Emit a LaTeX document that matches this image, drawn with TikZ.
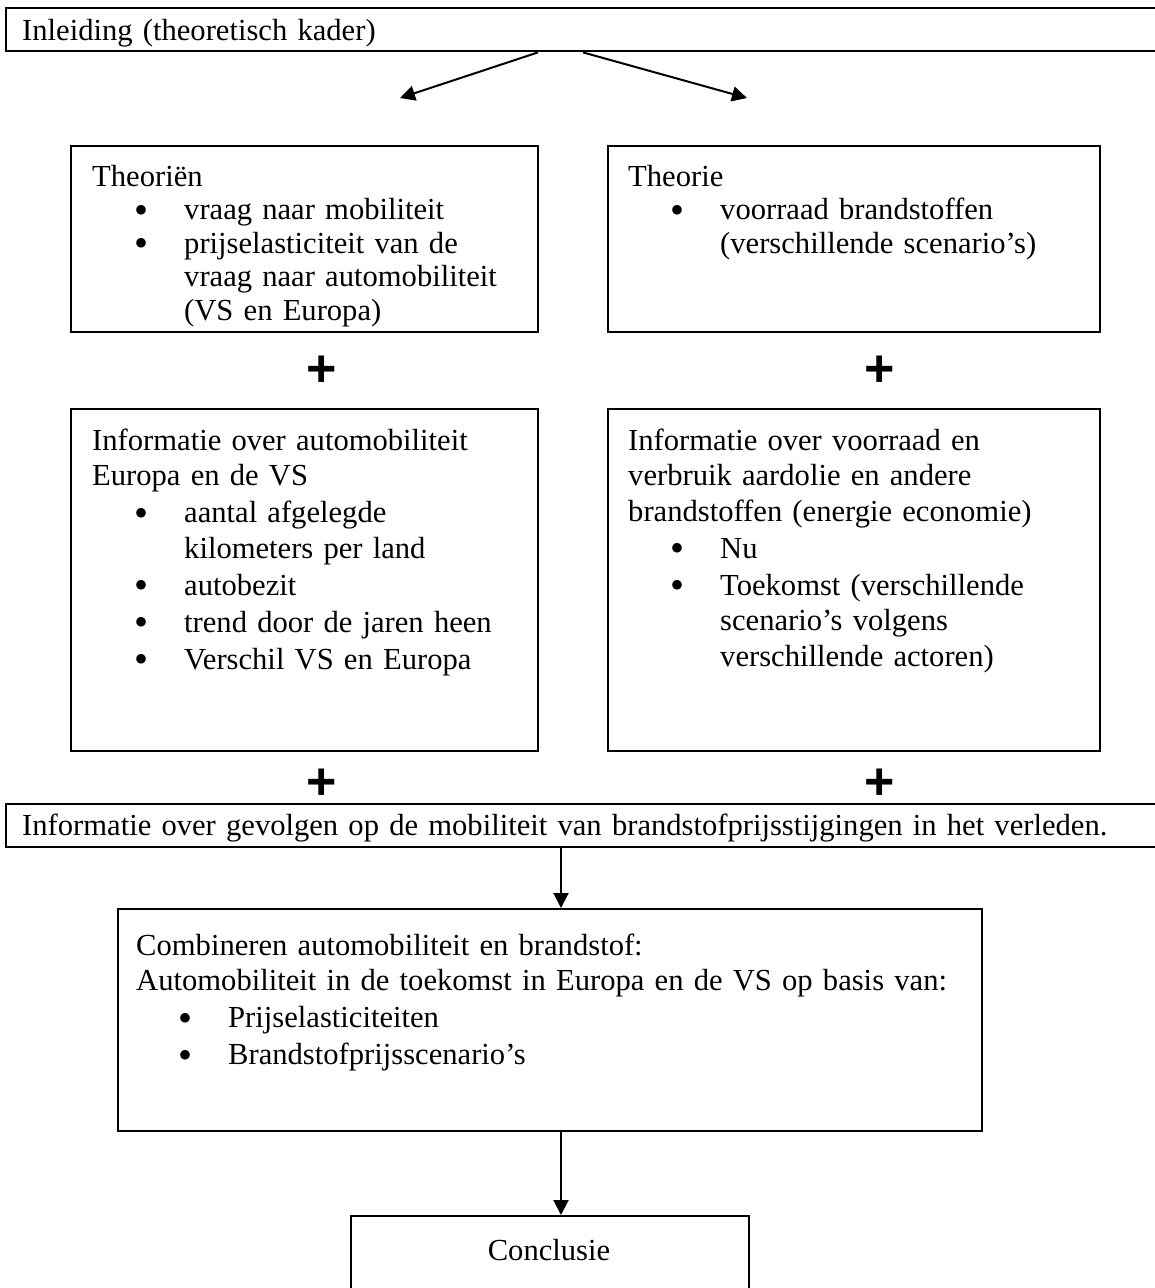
\documentclass[tikz,border=0pt]{standalone}
\usepackage{fontspec}
\setmainfont{Liberation Serif}[WordSpace=0.85]
\newfontfamily\plusfont{Liberation Sans}
\usetikzlibrary{arrows.meta}
% bulleted item: bullet hangs left of the item text
\newlength\itemgap
\setlength\itemgap{1.5pt}
\newcommand\bigbullet{\smash{\raisebox{-3.5pt}{\fontsize{40}{0}\selectfont\textbullet}}}
\newcommand\bul[1]{\par\vskip\itemgap{\leftskip=92pt\noindent\llap{\makebox[0pt]{\bigbullet}\hskip 43pt}#1\par}}
\begin{document}
\begin{tikzpicture}[x=1pt,y=-1pt,
  box/.style={draw, line width=2.4pt, inner sep=0pt, anchor=north west},
  txt/.style={inner sep=0pt, anchor=base west, align=left, text width=1130pt,
              font=\fontsize{30.6}{35.5}\selectfont},
  plus/.style={inner sep=0pt, font=\plusfont\bfseries\fontsize{52}{52}\selectfont},
  arr/.style={line width=2pt, -{Triangle[length=15pt,width=15pt]}}]
\useasboundingbox (0,0) rectangle (1155,1288);
\clip (0,0) rectangle (1155,1288);

% frames
\node[box, minimum width=1300pt, minimum height=43pt]  (intro)    at (5,7) {};
\node[box, minimum width=467pt,  minimum height=186pt] (theorien) at (70,145) {};
\node[box, minimum width=492pt,  minimum height=186pt] (theorie)  at (607,145) {};
\node[box, minimum width=467pt,  minimum height=342pt] (infoauto) at (70,408) {};
\node[box, minimum width=492pt,  minimum height=342pt] (infobr)   at (607,408) {};
\node[box, minimum width=1300pt, minimum height=43pt]  (info)     at (5,803) {};
\node[box, minimum width=864pt,  minimum height=222pt] (comb)     at (117,908) {};
\node[box, minimum width=398pt,  minimum height=140pt] (conc)     at (350,1215) {};

% texts
\node[txt] (tintro) at (22,40) {Inleiding (theoretisch kader)};
\node[txt, font=\fontsize{30.6}{33.5}\selectfont, /utils/exec={\setlength\itemgap{0pt}}] (ttheorien) at (92,186) {Theoriën
  \bul{vraag naar mobiliteit}
  \bul{prijselasticiteit van de\\vraag naar automobiliteit\\(VS en Europa)}};
\node[txt, font=\fontsize{30.6}{33.5}\selectfont, /utils/exec={\setlength\itemgap{0pt}}] (ttheorie) at (628,186) {Theorie
  \bul{voorraad brandstoffen\\(verschillende scenario’s)}};
\node[txt] (tinfoauto) at (92,450) {Informatie over automobiliteit\\Europa en de VS
  \bul{aantal afgelegde\\kilometers per land}
  \bul{autobezit}
  \bul{trend door de jaren heen}
  \bul{Verschil VS en Europa}};
\node[txt] (tinfobr) at (628,450) {Informatie over voorraad en\\verbruik aardolie en andere\\brandstoffen (energie economie)
  \bul{Nu}
  \bul{Toekomst (verschillende\\scenario’s volgens\\verschillende actoren)}};
\node[txt] (tinfo) at (22,835) {Informatie over gevolgen op de mobiliteit van brandstofprijsstijgingen in het verleden.};
\node[txt] (tcomb) at (136,955) {Combineren automobiliteit en brandstof:\\Automobiliteit in de toekomst in Europa en de VS op basis van:
  \bul{Prijselasticiteiten}
  \bul{Brandstofprijsscenario’s}};
\node[inner sep=0pt, anchor=base, font=\fontsize{30.6}{35.5}\selectfont] (tconc) at (549,1260) {Conclusie};

% plus signs
\node[plus] (p1) at (322,371) {+};
\node[plus] (p2) at (880,371) {+};
\node[plus] (p3) at (322,784) {+};
\node[plus] (p4) at (880,784) {+};

% connectors
\coordinate (xL) at (538,0);
\coordinate (xR) at (583,0);
\coordinate (xM) at (561,0);
\coordinate (eL) at (400,98);
\coordinate (eR) at (747,98);
\draw[arr] (intro.south -| xL) -- (eL);
\draw[arr] (intro.south -| xR) -- (eR);
\draw[arr] (info.south -| xM) -- (comb.north -| xM);
\draw[arr] (comb.south -| xM) -- (conc.north -| xM);
\end{tikzpicture}
\end{document}
